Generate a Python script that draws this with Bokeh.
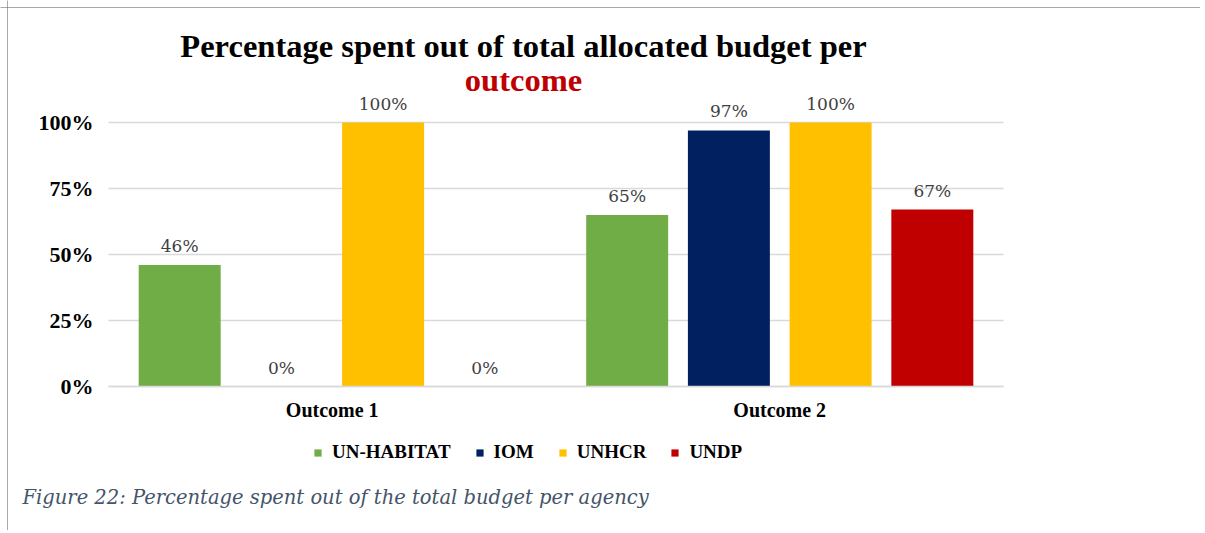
from bokeh.plotting import figure
from bokeh.models import (ColumnDataSource, Range1d, FixedTicker, NumeralTickFormatter,
                          Legend, LegendItem, Label, Span)
from bokeh.core.properties import value
from bokeh.embed import file_html
from bokeh.resources import INLINE

# ---- data ----
outcomes = ["Outcome 1", "Outcome 2"]
agencies = ["UN-HABITAT", "IOM", "UNHCR", "UNDP"]
un_habitat = [0.46, 0.65]
iom = [0.0, 0.97]
unhcr = [1.0, 1.0]
undp = [0.0, 0.67]
agency_colors = ["#70AD47", "#002060", "#FFC000", "#C00000"]
y_ticks = [0, 0.25, 0.5, 0.75, 1.0]
title_line1 = "Percentage spent out of total allocated budget per"
title_line2 = "outcome"
caption = "Figure 22: Percentage spent out of the total budget per agency"

series = [un_habitat, iom, unhcr, undp]
centers = [i + 0.5 for i in range(len(outcomes))]

BOLD_SERIF = "Liberation Serif"
W, H = 1200, 530
PX_PER_CAT = 447.5      # pixels per category
PX_PER_UNIT = 264.0     # pixels per 100%
X0_PX, Y0_PX = 108.0, 386.0   # pixel position of data (0, 0)

x_start = -X0_PX / PX_PER_CAT
x_end = (W - X0_PX) / PX_PER_CAT
y_start = -(H - Y0_PX) / PX_PER_UNIT
y_end = Y0_PX / PX_PER_UNIT

p = figure(width=W, height=H,
           x_range=Range1d(x_start, x_end), y_range=Range1d(y_start, y_end),
           output_backend="svg", toolbar_location=None,
           min_border=0, min_border_left=0, min_border_right=0,
           min_border_top=0, min_border_bottom=0)
p.outline_line_color = None
p.background_fill_color = "white"
p.border_fill_color = "white"

# horizontal gridlines limited to the plot area
p.xgrid.grid_line_color = None
p.ygrid.grid_line_color = None
n_cat = len(outcomes)
p.segment(x0=[0] * len(y_ticks), x1=[n_cat] * len(y_ticks), y0=y_ticks, y1=y_ticks,
          line_color="#D9D9D9", line_width=1.5)

step = 0.2273
bar_w = 0.1832
renderers = []
for i, (s, c) in enumerate(zip(series, agency_colors)):
    off = (i - 1.5) * step
    src = ColumnDataSource(dict(x=[cx + off for cx in centers], top=s,
                                lbl=[f"{v:.0%}" for v in s]))
    r = p.vbar(x="x", top="top", width=bar_w, source=src,
               fill_color=c, line_color=None)
    renderers.append(r)
    p.text(x="x", y="top", text="lbl", source=src, text_align="center",
           text_baseline="middle", y_offset=-19,
           text_font=value("DejaVu Serif"), text_font_size="17px",
           text_color="#404040")

# axes (placed inside the frame at data 0)
p.yaxis.fixed_location = 0
p.yaxis.bounds = (0, 1)
p.yaxis.ticker = FixedTicker(ticks=y_ticks)
p.yaxis.formatter = NumeralTickFormatter(format="0%")
p.yaxis.axis_line_color = None
p.yaxis.major_tick_line_color = None
p.yaxis.minor_tick_line_color = None
p.yaxis.major_label_standoff = 9
p.yaxis.major_label_text_font = BOLD_SERIF
p.yaxis.major_label_text_font_style = "bold"
p.yaxis.major_label_text_font_size = "22px"
p.yaxis.major_label_text_color = "black"

p.xaxis.fixed_location = 0
p.xaxis.bounds = (0, n_cat)
p.xaxis.ticker = FixedTicker(ticks=centers)
p.xaxis.major_label_overrides = {cx: name for cx, name in zip(centers, outcomes)}
p.xaxis.axis_line_color = "#D9D9D9"
p.xaxis.axis_line_width = 1.5
p.xaxis.major_tick_line_color = None
p.xaxis.minor_tick_line_color = None
p.xaxis.major_label_standoff = 6
p.xaxis.major_label_text_font = BOLD_SERIF
p.xaxis.major_label_text_font_style = "bold"
p.xaxis.major_label_text_font_size = "20px"
p.xaxis.major_label_text_color = "black"

# legend
legend = Legend(items=[LegendItem(label=a, renderers=[r]) for a, r in zip(agencies, renderers)],
                orientation="horizontal", location=(313, 67),
                glyph_width=9, glyph_height=9, label_standoff=10, spacing=24,
                padding=0, margin=0, border_line_color=None,
                background_fill_alpha=0,
                label_text_font=BOLD_SERIF, label_text_font_style="bold",
                label_text_font_size="19px", label_text_color="black",
                label_height=20)
p.add_layout(legend, "center")

# titles and caption (screen units measured from the bottom-left of the canvas)
p.add_layout(Label(x=523, y=H - 45, x_units="screen", y_units="screen",
                   text=title_line1, text_align="center", text_baseline="middle",
                   text_font=BOLD_SERIF, text_font_style="bold",
                   text_font_size="32.5px", text_color="black"))
p.add_layout(Label(x=523, y=H - 79, x_units="screen", y_units="screen",
                   text=title_line2, text_align="center", text_baseline="middle",
                   text_font=BOLD_SERIF, text_font_style="bold",
                   text_font_size="32.5px", text_color="#C00000"))
p.add_layout(Label(x=22, y=H - 497, x_units="screen", y_units="screen",
                   text=caption, text_align="left", text_baseline="middle",
                   text_font="DejaVu Serif", text_font_style="italic",
                   text_font_size="19.5px", text_color="#44546A"))

# dotted frame edges (top and left)
p.add_layout(Span(location=(Y0_PX - 7) / PX_PER_UNIT, dimension="width",
                  line_color="#555555", line_width=1, line_dash="1 1"))
p.add_layout(Span(location=(7 - X0_PX) / PX_PER_CAT, dimension="height",
                  line_color="#555555", line_width=1, line_dash="1 1"))

open("out.html", "w").write(file_html(p, INLINE))
